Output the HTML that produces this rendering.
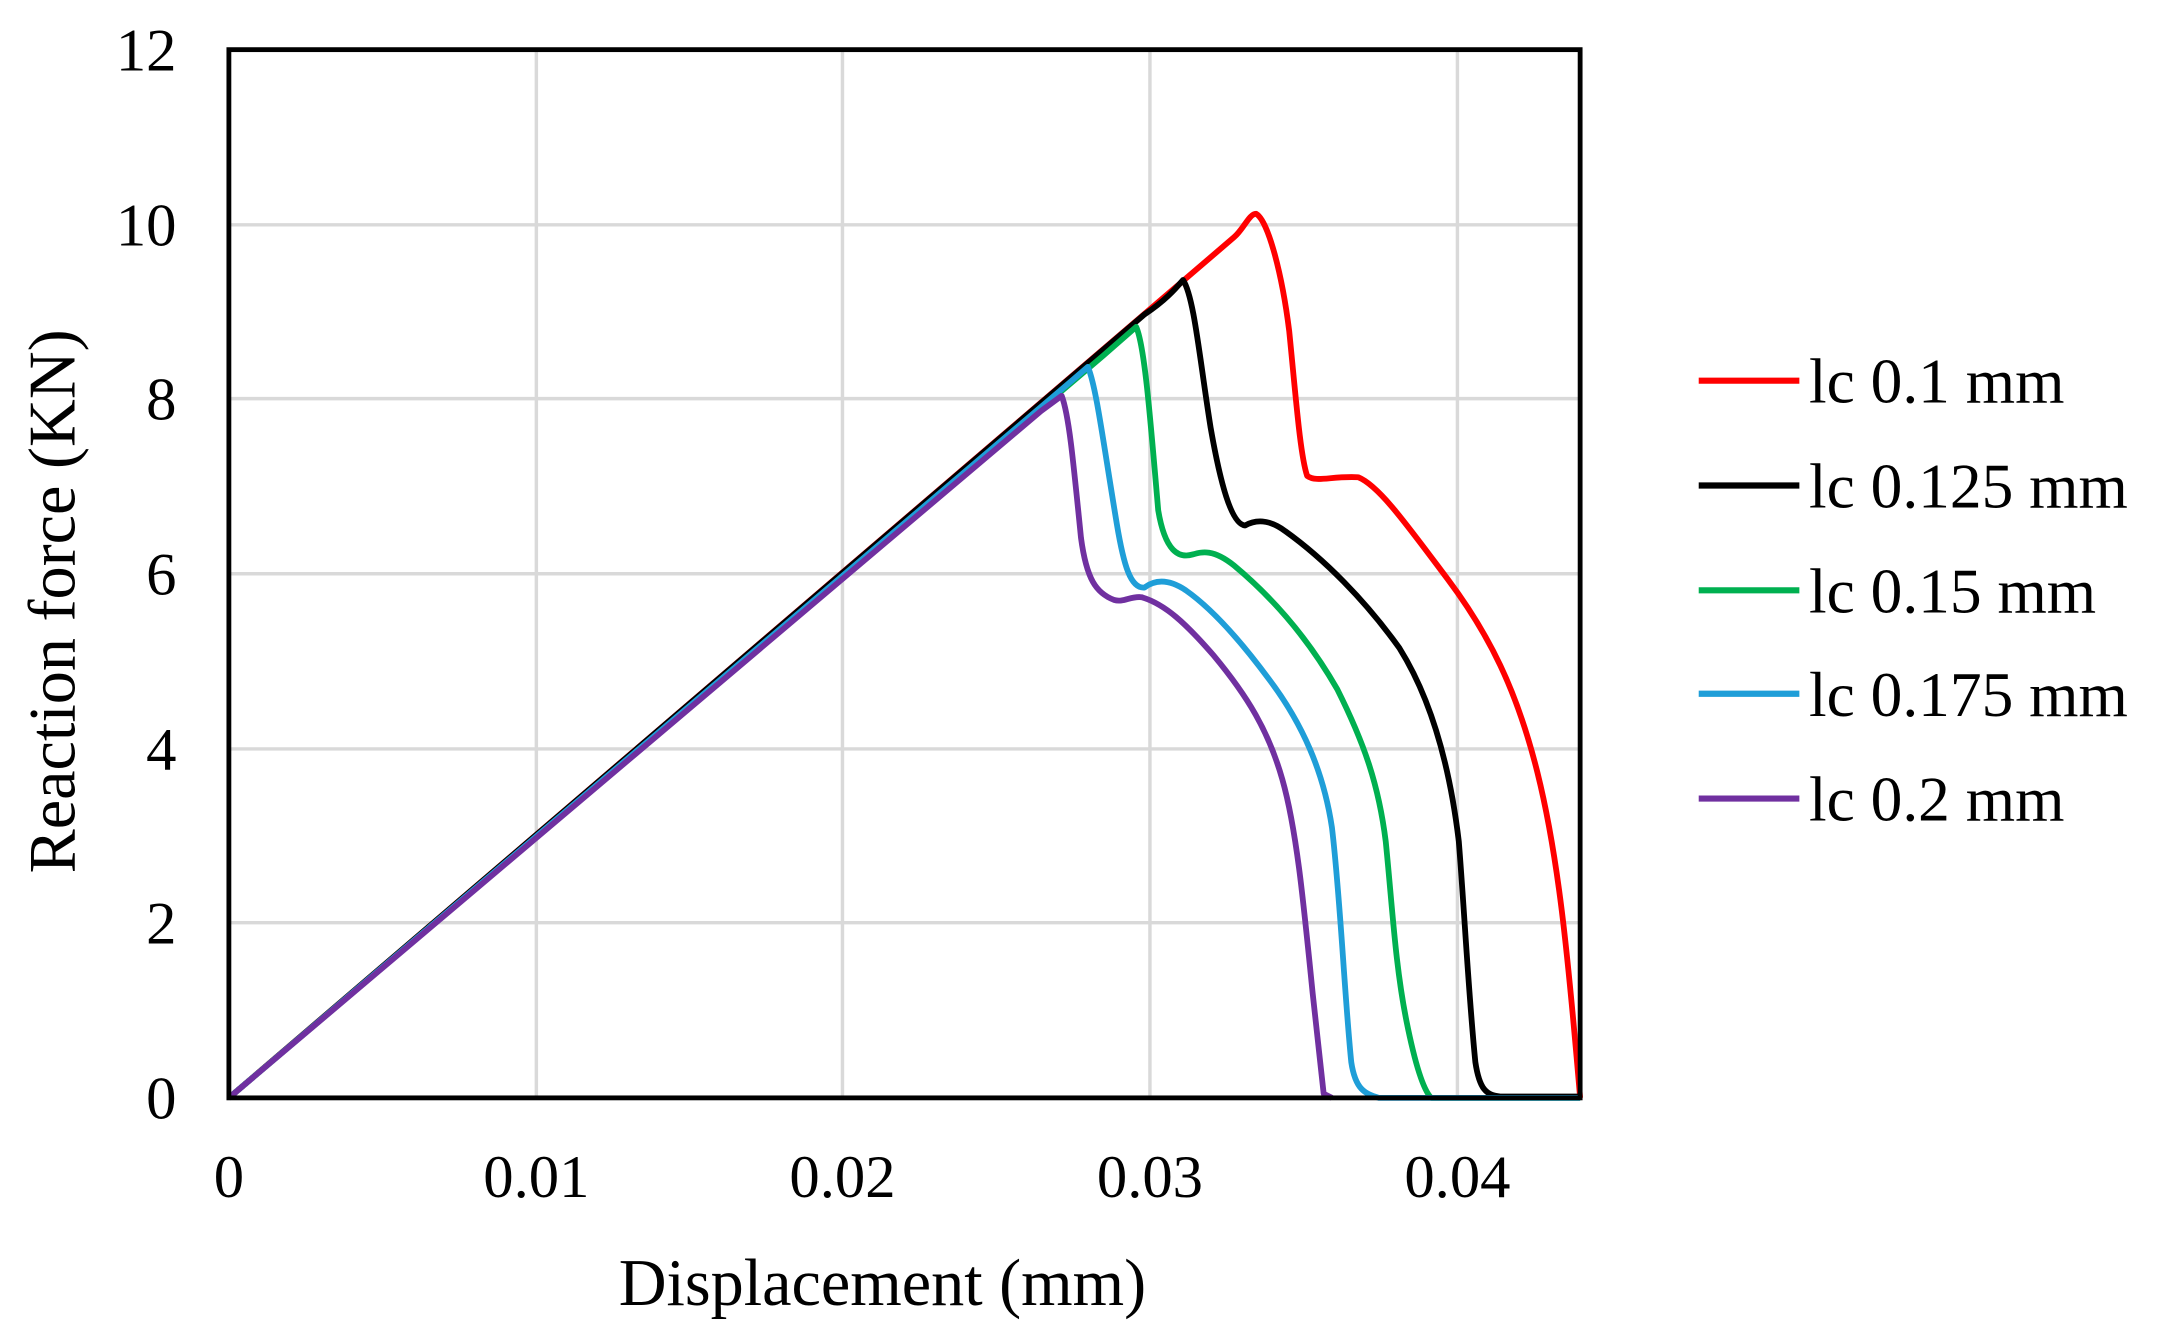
<!DOCTYPE html>
<html><head><meta charset="utf-8"><style>
html,body{margin:0;padding:0;background:#fff;}
svg{display:block;}
text{font-family:"Liberation Serif",serif;fill:#000;}
</style></head><body>
<svg width="2162" height="1342" viewBox="0 0 1568 973" preserveAspectRatio="none">
<rect width="1568" height="973" fill="#fff"/>
<g stroke="#d9d9d9" stroke-width="2.5">
<line x1="389" y1="36" x2="389" y2="796"/><line x1="611" y1="36" x2="611" y2="796"/>
<line x1="834" y1="36" x2="834" y2="796"/><line x1="1057" y1="36" x2="1057" y2="796"/>
<line x1="166" y1="163" x2="1146" y2="163"/><line x1="166" y1="289" x2="1146" y2="289"/>
<line x1="166" y1="416" x2="1146" y2="416"/><line x1="166" y1="543" x2="1146" y2="543"/>
<line x1="166" y1="669" x2="1146" y2="669"/>
</g>
<g fill="none" stroke-width="4.2" stroke-linejoin="round">
<path stroke="#ff0000" d="M166,796 L895,172 C902,166 906,155 911,155 C920,160 930,200 935,240 C940,290 943,330 948,345 C955,350 965,345 985,346 C1000,352 1020,380 1050,420 C1080,460 1100,500 1115,560 C1130,620 1137,690 1146,796"/>
<path stroke="#000000" d="M166,796 L830,228 C845,218 852,210 858,203 C866,215 870,260 878,310 C885,350 893,380 903,381 C910,377 920,376 932,385 C960,405 990,435 1015,470 C1040,510 1052,560 1058,610 C1062,660 1065,720 1070,770 C1073,790 1078,794 1088,795 L1146,795"/>
<path stroke="#00b050" d="M166,796 L800,258 L824,237 C830,250 834,300 840,370 C845,400 855,405 865,402 C872,400 880,398 895,410 C925,435 950,465 970,500 C990,540 1000,570 1005,610 C1010,660 1012,700 1020,740 C1026,770 1032,790 1038,796 L1146,796"/>
<path stroke="#1f9ed8" d="M166,796 L775,278 L789,266 C795,280 800,320 810,380 C815,410 820,427 830,426 C838,420 848,420 860,428 C880,442 900,465 920,492 C945,525 960,560 966,600 C972,650 975,720 980,770 C983,790 990,793 1000,796 L1146,796"/>
<path stroke="#7030a0" d="M166,796 L755,298 L770,287 C775,300 778,330 784,390 C788,420 795,430 808,435 C815,437 820,432 828,433 C845,438 860,452 880,475 C905,505 920,530 930,565 C940,600 945,650 952,720 L960,793 L966,796"/>
</g>
<rect x="166" y="36" width="980" height="760" fill="none" stroke="#000" stroke-width="3.5"/>
<g font-size="44" text-anchor="end">
<text x="128" y="51">12</text><text x="128" y="178">10</text><text x="128" y="304">8</text>
<text x="128" y="431">6</text><text x="128" y="558">4</text><text x="128" y="684">2</text><text x="128" y="811">0</text>
</g>
<g font-size="44" text-anchor="middle">
<text x="166" y="868">0</text><text x="389" y="868">0.01</text><text x="611" y="868">0.02</text>
<text x="834" y="868">0.03</text><text x="1057" y="868">0.04</text>
</g>
<text x="640" y="946" font-size="48" text-anchor="middle">Displacement (mm)</text>
<text transform="translate(54,436) rotate(-90)" font-size="48" text-anchor="middle">Reaction force (KN)</text>
<g stroke-width="4.5">
<line x1="1232" y1="276" x2="1305" y2="276" stroke="#ff0000"/>
<line x1="1232" y1="352" x2="1305" y2="352" stroke="#000"/>
<line x1="1232" y1="428" x2="1305" y2="428" stroke="#00b050"/>
<line x1="1232" y1="503" x2="1305" y2="503" stroke="#1f9ed8"/>
<line x1="1232" y1="579" x2="1305" y2="579" stroke="#7030a0"/>
</g>
<g font-size="46">
<text x="1312" y="292">lc 0.1 mm</text><text x="1312" y="368">lc 0.125 mm</text>
<text x="1312" y="444">lc 0.15 mm</text><text x="1312" y="519">lc 0.175 mm</text>
<text x="1312" y="595">lc 0.2 mm</text>
</g>
</svg>
</body></html>
